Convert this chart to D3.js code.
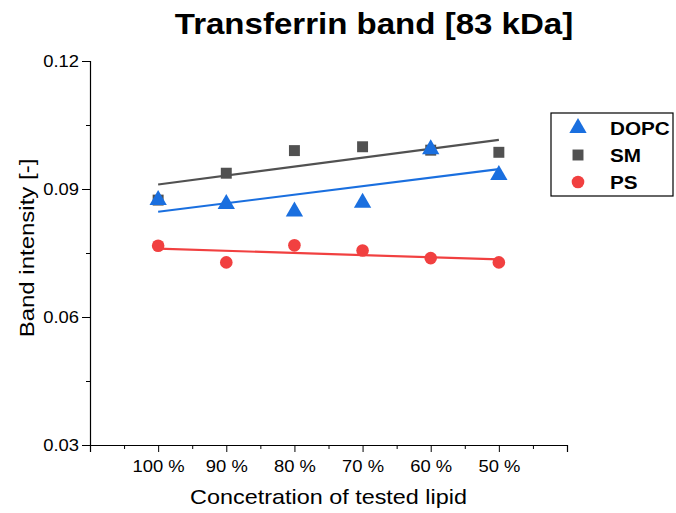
<!DOCTYPE html>
<html>
<head>
<meta charset="utf-8">
<script src="https://cdn.jsdelivr.net/npm/d3@7"></script>
<style>
  body { margin: 0; background: #fff; }
  text { font-family: "Liberation Sans", Arial, sans-serif; fill: #000; }
</style>
</head>
<body>
<div id="chart"></div>
<script>
// categories on the x axis (positions 1..6)
const categories = ["100 %", "90 %", "80 %", "70 %", "60 %", "50 %"];
const yTicks = [0.03, 0.06, 0.09, 0.12];

// band intensities
const dopc = [0.0874, 0.0865, 0.0847, 0.0868, 0.0993, 0.0933];
const sm = [0.0874, 0.0937, 0.0990, 0.0999, 0.0991, 0.0986];
const ps = [0.0767, 0.0728, 0.0768, 0.0756, 0.0738, 0.0728];

const seriesNames = ["DOPC", "SM", "PS"];

const width = 676, height = 513;
const margin = { top: 61, right: 109, bottom: 68, left: 90 };
const stretch = 1.15; // the original font is drawn a bit wider than Arial

const svg = d3.select("#chart")
  .append("svg")
  .attr("width", width)
  .attr("height", height);

const x = d3.scaleLinear()
  .domain([0, 7])
  .range([margin.left, width - margin.right]);

const y = d3.scaleLinear()
  .domain([0.03, 0.12])
  .range([height - margin.bottom, margin.top]);

const series = [
  { name: "SM", values: sm, color: "#515151", shape: d3.symbolSquare, size: 120 },
  { name: "DOPC", values: dopc, color: "#1A6FDF", shape: d3.symbolTriangle, size: 130 },
  { name: "PS", values: ps, color: "#F14040", shape: d3.symbolCircle, size: 125 }
];

// simple least squares fit
function fit(values) {
  const xs = values.map((v, i) => i + 1);
  const mx = d3.mean(xs), my = d3.mean(values);
  let num = 0, den = 0;
  xs.forEach((xv, i) => { num += (xv - mx) * (values[i] - my); den += (xv - mx) * (xv - mx); });
  const b = num / den, a = my - b * mx;
  return [1, 6].map(xv => [xv, a + b * xv]);
}

// text that is a bit wider than the installed fonts
function wideText(px, py, rot, k) {
  return svg.append("text")
    .attr("transform", `translate(${px}, ${py}) rotate(${rot}) scale(${k}, 1)`);
}

// x axis
const xAxis = svg.append("g")
  .attr("transform", `translate(0, ${y(0.03)})`)
  .call(d3.axisBottom(x).tickValues(d3.range(0, 8)).tickSize(7)
    .tickFormat(d => categories[d - 1] || ""));
xAxis.select(".domain").attr("stroke", "#000").attr("stroke-width", 1.2);
xAxis.selectAll(".tick text")
  .attr("font-size", 16)
  .attr("y", 27)
  .attr("dy", 0)
  .attr("transform", `scale(${stretch}, 1)`);
svg.append("g")
  .attr("transform", `translate(0, ${y(0.03)})`)
  .call(d3.axisBottom(x).tickValues(d3.range(0.5, 7, 1)).tickSize(4).tickFormat(""))
  .select(".domain").remove();

// y axis
const yAxis = svg.append("g")
  .attr("transform", `translate(${margin.left}, 0)`)
  .call(d3.axisLeft(y).tickValues(yTicks).tickSize(8).tickFormat(d3.format(".2f")));
yAxis.select(".domain").attr("stroke", "#000").attr("stroke-width", 1.2);
yAxis.selectAll(".tick text")
  .attr("font-size", 16)
  .attr("x", 0)
  .attr("transform", `translate(-11, 0) scale(${stretch}, 1)`);
svg.append("g")
  .attr("transform", `translate(${margin.left}, 0)`)
  .call(d3.axisLeft(y).tickValues([0.045, 0.075, 0.105]).tickSize(4).tickFormat(""))
  .select(".domain").remove();
svg.selectAll(".tick line").attr("stroke", "#000");

// fit lines
const line = d3.line()
  .x(d => x(d[0]))
  .y(d => y(d[1]));

svg.selectAll(".fit")
  .data(series)
  .join("path")
  .attr("class", "fit")
  .attr("fill", "none")
  .attr("stroke", d => d.color)
  .attr("stroke-width", 2.2)
  .attr("d", d => line(fit(d.values)));

// points
series.forEach(s => {
  svg.append("g")
    .selectAll("path")
    .data(s.values)
    .join("path")
    .attr("transform", (d, i) => `translate(${x(i + 1)}, ${y(d)})`)
    .attr("d", d3.symbol().type(s.shape).size(s.size))
    .attr("fill", s.color);
});

// title
wideText(374, 34, 0, 1.14)
  .attr("text-anchor", "middle")
  .attr("font-size", 29)
  .attr("font-weight", "bold")
  .text("Transferrin band [83 kDa]");

// axis titles
wideText(x(3.5), 504, 0, 1.17)
  .attr("text-anchor", "middle")
  .attr("font-size", 20)
  .text("Concetration of tested lipid");

wideText(34, 248, -90, 1.2)
  .attr("text-anchor", "middle")
  .attr("font-size", 20)
  .text("Band intensity [-]");

// legend
const legend = svg.append("g").attr("transform", "translate(551, 113)");
legend.append("rect")
  .attr("width", 122)
  .attr("height", 83)
  .attr("fill", "#fff")
  .attr("stroke", "#000")
  .attr("stroke-width", 1.2);

const legendOrder = seriesNames.map(n => series.find(s => s.name === n));
legendOrder.forEach((s, i) => {
  const row = legend.append("g").attr("transform", `translate(27, ${15 + i * 27})`);
  row.append("path")
    .attr("d", d3.symbol().type(s.shape).size(s.size))
    .attr("fill", s.color);
  row.append("text")
    .attr("transform", `translate(32, 7) scale(1.15, 1)`)
    .attr("font-size", 18)
    .attr("font-weight", "bold")
    .text(s.name);
});
</script>
</body>
</html>
